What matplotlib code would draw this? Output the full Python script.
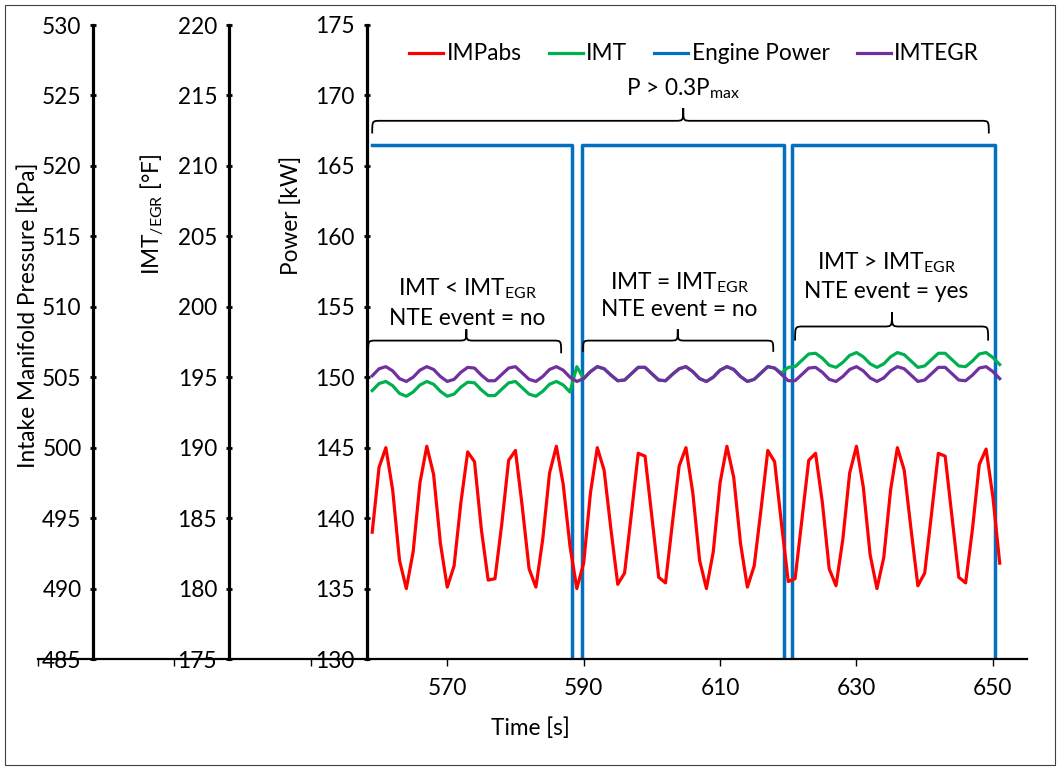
import matplotlib

matplotlib.use("Agg")

import matplotlib.pyplot as plt
import numpy as np
from matplotlib.patches import PathPatch, Rectangle
from matplotlib.path import Path

plt.rcParams["font.family"] = ["Lato", "DejaVu Sans"]
plt.rcParams["mathtext.fontset"] = "custom"
plt.rcParams["mathtext.rm"] = "Lato"
plt.rcParams["mathtext.it"] = "Lato:italic"
plt.rcParams["mathtext.bf"] = "Lato:bold"

FONT_SIZE = 16.3

# one sample per second
TIME_S = np.arange(559, 652)

IMP_ABS_KPA = [
    494.0, 498.6, 500.0, 497.0, 492.0, 490.0, 492.6, 497.5, 500.1, 498.1,
    493.2, 490.1, 491.6, 496.1, 499.7, 499.0, 494.2, 490.6, 490.7, 494.6,
    499.1, 499.8, 495.8, 491.4, 490.1, 493.5, 498.2, 500.1, 497.4, 493.0,
    490.0, 491.8, 496.8, 500.0, 498.4, 494.2, 490.3, 491.1, 495.3, 499.6,
    499.4, 495.1, 490.8, 490.4, 494.6, 498.7, 500.0, 496.8, 492.0, 490.0,
    492.6, 497.5, 500.1, 497.9, 493.2, 490.1, 491.6, 495.6, 499.8, 499.0,
    494.6, 490.5, 490.7, 494.9, 499.1, 499.6, 496.1, 491.4, 490.2, 493.5,
    498.2, 500.1, 497.2, 492.4, 490.0, 492.2, 497.0, 500.0, 498.4, 494.2,
    490.2, 491.1, 495.3, 499.6, 499.4, 495.1, 490.8, 490.4, 494.2, 498.8,
    499.9, 496.5, 491.8,
]

IMT_F = [
    194.05, 194.55, 194.7, 194.4, 193.85, 193.65, 193.95, 194.45, 194.7, 194.5,
    194.0, 193.65, 193.8, 194.3, 194.65, 194.6, 194.1, 193.7, 193.7, 194.15,
    194.6, 194.7, 194.25, 193.8, 193.65, 194.0, 194.5, 194.7, 194.45, 193.95,
    195.75, 194.9, 195.4, 195.75, 195.6, 195.15, 194.75, 194.8, 195.25, 195.7,
    195.7, 195.25, 194.8, 194.75, 195.2, 195.6, 195.75, 195.4, 194.9, 194.7,
    195.0, 195.5, 195.75, 195.55, 195.05, 194.7, 194.85, 195.3, 195.75, 195.65,
    195.3, 195.7, 195.75, 196.2, 196.65, 196.7, 196.35, 195.85, 195.7, 196.05,
    196.55, 196.75, 196.45, 195.95, 195.7, 195.95, 196.45, 196.75, 196.6, 196.15,
    195.7, 195.8, 196.25, 196.7, 196.7, 196.25, 195.8, 195.75, 196.15, 196.65,
    196.75, 196.4, 195.9,
]

IMT_EGR_F = [
    195.1, 195.6, 195.75, 195.45, 194.9, 194.7, 195.0, 195.5, 195.75, 195.55,
    195.05, 194.7, 194.85, 195.35, 195.7, 195.65, 195.15, 194.75, 194.75, 195.2,
    195.65, 195.75, 195.3, 194.85, 194.7, 195.05, 195.55, 195.75, 195.5, 195.0,
    194.7, 194.9, 195.4, 195.75, 195.6, 195.15, 194.75, 194.8, 195.25, 195.7,
    195.7, 195.25, 194.8, 194.75, 195.2, 195.6, 195.75, 195.4, 194.9, 194.7,
    195.0, 195.5, 195.75, 195.55, 195.05, 194.7, 194.85, 195.3, 195.75, 195.65,
    195.2, 194.75, 194.75, 195.2, 195.65, 195.7, 195.35, 194.85, 194.7, 195.05,
    195.55, 195.75, 195.45, 194.95, 194.7, 194.95, 195.45, 195.75, 195.6, 195.15,
    194.7, 194.8, 195.25, 195.7, 195.7, 195.25, 194.8, 194.75, 195.15, 195.65,
    195.75, 195.4, 194.9,
]

POWER_TIME_S = [559, 588.3, 588.3, 589.7, 589.7, 619.4, 619.4, 620.6, 620.6, 650.3, 650.3]
POWER_KW = [166.5, 166.5, 0, 0, 166.5, 166.5, 0, 0, 166.5, 166.5, 0]

X_TICKS = [510, 530, 550, 570, 590, 610, 630, 650]
X_TICK_LABELS = ["", "", "", "570", "590", "610", "630", "650"]

RED = "#FF0000"
GREEN = "#00B050"
BLUE = "#0070C0"
PURPLE = "#7030A0"


def style_y_axis(axis, spine_x, low, high):
    for name in ["top", "right", "bottom"]:
        axis.spines[name].set_visible(False)
    axis.spines["left"].set_visible(True)
    axis.spines["left"].set_position(("data", spine_x))
    axis.spines["left"].set_linewidth(2.3)
    axis.yaxis.set_ticks_position("left")
    axis.yaxis.set_label_position("left")
    axis.set_ylim(low, high)
    axis.set_yticks(np.arange(low, high + 1, 5))
    axis.tick_params(axis="y", direction="inout", length=5, width=2.0,
                     pad=6.0, labelsize=FONT_SIZE)


def draw_brace(ax, x0, x1, xm, y_end, y_mid, y_tip, dx=1.2):
    verts = [
        (x0, y_end), (x0, y_mid), (x0, y_mid), (x0 + dx, y_mid),
        (xm - dx, y_mid), (xm, y_mid), (xm, y_mid), (xm, y_tip),
        (xm, y_mid), (xm, y_mid), (xm + dx, y_mid),
        (x1 - dx, y_mid), (x1, y_mid), (x1, y_mid), (x1, y_end),
    ]
    codes = [
        Path.MOVETO, Path.CURVE4, Path.CURVE4, Path.CURVE4,
        Path.LINETO, Path.CURVE4, Path.CURVE4, Path.CURVE4,
        Path.CURVE4, Path.CURVE4, Path.CURVE4,
        Path.LINETO, Path.CURVE4, Path.CURVE4, Path.CURVE4,
    ]
    patch = PathPatch(Path(verts, codes), facecolor="none", edgecolor="black",
                      linewidth=1.3, clip_on=False, zorder=5)
    ax.add_patch(patch)


fig = plt.figure(figsize=(10.6, 7.7), dpi=100)
ax = fig.add_axes([38 / 1060, 111 / 770, 989 / 1060, 634 / 770])
ax_imt = ax.twinx()
ax_imp = ax.twinx()

ax.set_xlim(510, 655)
style_y_axis(ax, 558.2, 130, 175)
style_y_axis(ax_imt, 538.0, 175, 220)
style_y_axis(ax_imp, 518.1, 485, 530)

ax.spines["bottom"].set_visible(True)
ax.spines["bottom"].set_linewidth(1.6)
ax.set_xticks(X_TICKS)
ax.set_xticklabels(X_TICK_LABELS)
ax.tick_params(axis="x", direction="out", length=5, width=1.0, pad=9,
               labelsize=FONT_SIZE)

ax.plot(POWER_TIME_S, POWER_KW, color=BLUE, linewidth=2.5)
ax_imp.plot(TIME_S, IMP_ABS_KPA, color=RED, linewidth=2.3)
ax_imt.plot(TIME_S, IMT_F, color=GREEN, linewidth=2.3)
ax_imt.plot(TIME_S, IMT_EGR_F, color=PURPLE, linewidth=2.3)

handles = [
    plt.Line2D([], [], color=RED, linewidth=2.3),
    plt.Line2D([], [], color=GREEN, linewidth=2.3),
    plt.Line2D([], [], color=BLUE, linewidth=2.3),
    plt.Line2D([], [], color=PURPLE, linewidth=2.3),
]
fig.legend(handles, ["IMPabs", "IMT", "Engine Power", "IMTEGR"],
           loc="center", bbox_to_anchor=(694 / 1060, 1 - 54 / 770), ncol=4,
           frameon=False, fontsize=FONT_SIZE, handlelength=1.5,
           handletextpad=0.15, columnspacing=1.2)

# braces and annotations on the power axis
draw_brace(ax, 559.0, 649.4, 604.6, 167.3, 168.2, 169.1)
ax.text(604.6, 170.5, "P > 0.3P$_\\mathrm{max}$", ha="center", va="center",
        fontsize=FONT_SIZE)

draw_brace(ax, 558.4, 586.7, 572.8, 151.7, 152.6, 153.4)
ax.text(572.9, 156.3, "IMT < IMT$_\\mathrm{EGR}$", ha="center", va="center",
        fontsize=FONT_SIZE)
ax.text(572.9, 154.2, "NTE event = no", ha="center", va="center",
        fontsize=FONT_SIZE)

draw_brace(ax, 589.9, 617.8, 603.8, 151.8, 152.6, 153.4)
ax.text(604.0, 156.7, "IMT = IMT$_\\mathrm{EGR}$", ha="center", va="center",
        fontsize=FONT_SIZE)
ax.text(604.0, 154.8, "NTE event = no", ha="center", va="center",
        fontsize=FONT_SIZE)

draw_brace(ax, 621.0, 649.3, 635.2, 152.6, 153.6, 154.6)
ax.text(634.4, 158.1, "IMT > IMT$_\\mathrm{EGR}$", ha="center", va="center",
        fontsize=FONT_SIZE)
ax.text(634.4, 156.1, "NTE event = yes", ha="center", va="center",
        fontsize=FONT_SIZE)

# axis titles
fig.text(28 / 1060, 1 - 315 / 770, "Intake Manifold Pressure [kPa]",
         rotation=90, ha="center", va="center", fontsize=FONT_SIZE)
fig.text(152 / 1060, 1 - 214 / 770, "IMT$_\\mathrm{/EGR}$ [°F]",
         rotation=90, ha="center", va="center", fontsize=FONT_SIZE)
fig.text(291 / 1060, 1 - 215 / 770, "Power [kW]",
         rotation=90, ha="center", va="center", fontsize=FONT_SIZE)
fig.text(530 / 1060, 1 - 728 / 770, "Time [s]", ha="center", va="center",
         fontsize=FONT_SIZE)

fig.patches.append(Rectangle((5 / 1060, 5 / 770), 1050 / 1060, 760 / 770,
                             transform=fig.transFigure, fill=False,
                             edgecolor="#404040", linewidth=0.8))

fig.savefig("out.png", dpi=100)
plt.close(fig)
